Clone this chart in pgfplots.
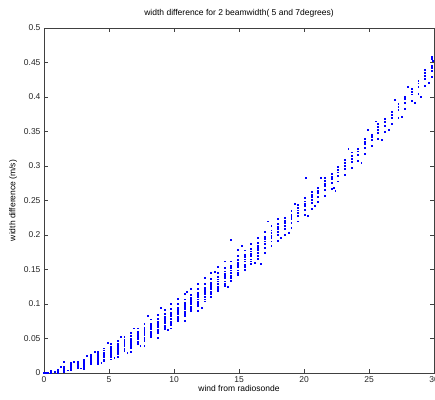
\documentclass[border=0pt]{standalone}
\usepackage{pgfplots}
\pgfplotsset{compat=1.18}
\usepackage{pgfplotstable}
\usepackage{fontspec}
\setmainfont{Liberation Sans}
\pgfplotstableread{
x y
0 0
0 0.0005
0.1 0
0.2 0.001
0.3 0
0.514 0
0.514 0.001
0.514 0.002
0.514 0.003
0.514 0.0005
1.028 0.001
1.028 0.002
1.028 0.003
1.028 0.004
1.028 0.0055
1.028 0.0015
1.542 0.0025
1.542 0.004
1.542 0.005
1.542 0.006
1.542 0.0075
1.542 0.0095
1.542 0.0035
1.542 0.016
2.056 0.0045
2.056 0.0065
2.056 0.008
2.056 0.009
2.056 0.0105
2.056 0.013
2.056 0.006
2.056 0.015
2.57 0.007
2.57 0.009
2.57 0.0105
2.57 0.0115
2.57 0.0125
2.57 0.014
2.57 0.016
2.57 0.0085
3.084 0.0095
3.084 0.012
3.084 0.014
3.084 0.015
3.084 0.016
3.084 0.0175
3.084 0.02
3.084 0.011
3.084 0.006
3.598 0.013
3.598 0.015
3.598 0.0175
3.598 0.0185
3.598 0.0195
3.598 0.021
3.598 0.0235
3.598 0.026
3.598 0.016
4.112 0.016
4.112 0.019
4.112 0.021
4.112 0.0225
4.112 0.024
4.112 0.0255
4.112 0.028
4.112 0.031
4.112 0.02
4.112 0.013
4.626 0.02
4.626 0.023
4.626 0.025
4.626 0.027
4.626 0.0285
4.626 0.03
4.626 0.033
4.626 0.036
4.626 0.024
4.626 0.018
5.14 0.024
5.14 0.027
5.14 0.0295
5.14 0.0315
5.14 0.033
5.14 0.035
5.14 0.038
5.14 0.042
5.14 0.026
5.14 0.02
5.654 0.028
5.654 0.0315
5.654 0.034
5.654 0.036
5.654 0.0375
5.654 0.0395
5.654 0.043
5.654 0.047
5.654 0.03
5.654 0.023
6.168 0.032
6.168 0.036
6.168 0.039
6.168 0.041
6.168 0.043
6.168 0.045
6.168 0.048
6.168 0.053
6.168 0.035
6.682 0.037
6.682 0.041
6.682 0.044
6.682 0.0465
6.682 0.0485
6.682 0.0505
6.682 0.054
6.682 0.059
6.682 0.04
6.682 0.031
7.196 0.042
7.196 0.046
7.196 0.0495
7.196 0.052
7.196 0.054
7.196 0.0565
7.196 0.06
7.196 0.065
7.196 0.045
7.71 0.047
7.71 0.0515
7.71 0.055
7.71 0.0575
7.71 0.06
7.71 0.0625
7.71 0.066
7.71 0.072
7.71 0.05
7.71 0.04
8.224 0.052
8.224 0.057
8.224 0.0605
8.224 0.0635
8.224 0.066
8.224 0.0685
8.224 0.072
8.224 0.078
8.224 0.055
8.738 0.058
8.738 0.063
8.738 0.0665
8.738 0.0695
8.738 0.072
8.738 0.075
8.738 0.079
8.738 0.085
8.738 0.061
8.738 0.051
9.252 0.064
9.252 0.069
9.252 0.073
9.252 0.076
9.252 0.0785
9.252 0.0815
9.252 0.086
9.252 0.092
9.252 0.067
9.766 0.07
9.766 0.075
9.766 0.079
9.766 0.0825
9.766 0.085
9.766 0.088
9.766 0.093
9.766 0.1
9.766 0.073
9.766 0.065
10.28 0.076
10.28 0.082
10.28 0.086
10.28 0.089
10.28 0.092
10.28 0.095
10.28 0.1
10.28 0.108
10.28 0.079
10.794 0.083
10.794 0.089
10.794 0.093
10.794 0.096
10.794 0.099
10.794 0.102
10.794 0.107
10.794 0.115
10.794 0.086
10.794 0.076
11.308 0.09
11.308 0.096
11.308 0.1
11.308 0.103
11.308 0.106
11.308 0.109
11.308 0.114
11.308 0.122
11.308 0.093
11.822 0.097
11.822 0.103
11.822 0.107
11.822 0.11
11.822 0.113
11.822 0.1165
11.822 0.122
11.822 0.13
11.822 0.1
11.822 0.09
12.336 0.104
12.336 0.11
12.336 0.1145
12.336 0.1175
12.336 0.1205
12.336 0.124
12.336 0.13
12.336 0.138
12.336 0.107
12.85 0.111
12.85 0.118
12.85 0.122
12.85 0.125
12.85 0.128
12.85 0.1315
12.85 0.137
12.85 0.146
12.85 0.115
13.364 0.119
13.364 0.125
13.364 0.13
13.364 0.133
13.364 0.136
13.364 0.1395
13.364 0.145
13.364 0.154
13.364 0.122
13.878 0.126
13.878 0.133
13.878 0.1375
13.878 0.141
13.878 0.144
13.878 0.1475
13.878 0.153
13.878 0.162
13.878 0.13
14.392 0.134
14.392 0.141
14.392 0.1455
14.392 0.149
14.392 0.152
14.392 0.1555
14.392 0.162
14.392 0.193
14.392 0.138
14.906 0.142
14.906 0.149
14.906 0.1535
14.906 0.157
14.906 0.16
14.906 0.164
14.906 0.17
14.906 0.179
14.906 0.146
15.42 0.15
15.42 0.157
15.42 0.162
15.42 0.165
15.42 0.168
15.42 0.172
15.42 0.178
15.42 0.154
15.934 0.158
15.934 0.165
15.934 0.17
15.934 0.1735
15.934 0.1765
15.934 0.1805
15.934 0.187
15.934 0.162
16.448 0.166
16.448 0.174
16.448 0.179
16.448 0.182
16.448 0.185
16.448 0.189
16.448 0.196
16.448 0.17
16.962 0.175
16.962 0.182
16.962 0.1875
16.962 0.191
16.962 0.194
16.962 0.198
16.962 0.205
17.476 0.184
17.476 0.191
17.476 0.196
17.476 0.1995
17.476 0.203
17.476 0.207
17.476 0.214
17.99 0.192
17.99 0.2
17.99 0.205
17.99 0.2085
17.99 0.212
17.99 0.216
17.99 0.223
18.504 0.201
18.504 0.209
18.504 0.214
18.504 0.2175
18.504 0.221
18.504 0.225
19.018 0.21
19.018 0.218
19.018 0.2235
19.018 0.227
19.018 0.23
19.018 0.235
19.532 0.22
19.532 0.228
19.532 0.2325
19.532 0.236
19.532 0.24
19.532 0.244
20.046 0.229
20.046 0.237
20.046 0.242
20.046 0.2455
20.046 0.249
20.046 0.254
20.56 0.238
20.56 0.247
20.56 0.2515
20.56 0.255
20.56 0.259
20.56 0.263
21.074 0.248
21.074 0.256
21.074 0.261
21.074 0.2645
21.074 0.269
21.588 0.257
21.588 0.266
21.588 0.271
21.588 0.2745
21.588 0.279
21.588 0.283
22.102 0.267
22.102 0.276
22.102 0.281
22.102 0.2845
22.102 0.289
22.616 0.278
22.616 0.286
22.616 0.291
22.616 0.2945
22.616 0.299
23.13 0.287
23.13 0.296
23.13 0.301
23.13 0.3045
23.13 0.309
23.644 0.297
23.644 0.306
23.644 0.311
23.644 0.315
23.644 0.32
24.158 0.308
24.158 0.317
24.158 0.3215
24.158 0.325
24.672 0.318
24.672 0.327
24.672 0.332
24.672 0.3355
24.672 0.34
25.186 0.329
25.186 0.338
25.186 0.342
25.186 0.346
25.7 0.339
25.7 0.348
25.7 0.353
25.7 0.357
25.7 0.361
26.214 0.35
26.214 0.359
26.214 0.364
26.214 0.368
26.728 0.361
26.728 0.37
26.728 0.375
26.728 0.379
27.242 0.37
27.242 0.381
27.242 0.386
27.242 0.39
27.756 0.383
27.756 0.392
27.756 0.397
27.756 0.401
28.27 0.394
28.27 0.404
28.27 0.408
28.27 0.412
28.784 0.405
28.784 0.415
28.784 0.42
28.784 0.424
29.298 0.417
29.298 0.426
29.298 0.431
29.298 0.435
29.298 0.44
29.812 0.429
29.812 0.438
29.812 0.443
29.812 0.446
29.812 0.455
29.812 0.458
11.0 0.118
12.1 0.095
13.1 0.147
14.1 0.125
15.2 0.185
16.2 0.160
17.2 0.220
18.2 0.196
19.3 0.245
20.3 0.228
21.3 0.283
22.3 0.268
23.4 0.325
24.4 0.305
25.5 0.365
26.5 0.352
27.5 0.372
28.0 0.415
29.0 0.400
9.0 0.094
9.5 0.063
8.0 0.083
7.4 0.040
6.9 0.065
6.4 0.030
5.9 0.052
5.4 0.022
4.9 0.044
4.4 0.015
3.9 0.031
3.3 0.025
2.8 0.007
2.3 0.017
1.8 0.004
1.3 0.009
0.8 0.002
16.7 0.158
18.8 0.203
20.1 0.283
20.8 0.243
22.4 0.264
24.9 0.352
26.0 0.338
27.0 0.396
28.5 0.392
29.6 0.421
29.9 0.452
}\datatable
\begin{document}
\begin{tikzpicture}
\useasboundingbox (-44pt,-26pt) rectangle (391pt,373pt);
\begin{axis}[
  at={(0pt,0pt)}, anchor=origin,
  scale only axis,
  width=390pt, height=345pt,
  xmin=0, xmax=30, ymin=0, ymax=0.5,
  xtick={0,5,...,30},
  ytick={0,0.05,...,0.5},
  tick align=inside,
  major tick length=4pt,
  axis line style={black!75, line width=0.5pt},
  tick style={black!75, line width=0.5pt},
  every tick label/.append style={font=\fontsize{8.5}{10}\selectfont, text=black!85},
  /pgf/number format/assume math mode=true,
  yticklabel style={/pgf/number format/fixed, /pgf/number format/precision=2},
  xticklabel style={/pgf/number format/fixed},
  scaled y ticks=false,
  title={width difference for 2 beamwidth( 5 and 7degrees)},
  title style={font=\fontsize{8.5}{10}\selectfont, yshift=1pt},
  xlabel={wind from radiosonde},
  ylabel={width difference (m/s)},
  xlabel style={font=\fontsize{8.5}{10}\selectfont, yshift=4pt},
  ylabel style={font=\fontsize{8.5}{10}\selectfont, yshift=0pt},
  clip=false,
]
\addplot[only marks, mark=square*, mark size=0.45pt, color=blue, mark options={draw=blue, fill=blue}] table[x=x, y=y] {\datatable};
\end{axis}
\end{tikzpicture}
\end{document}
